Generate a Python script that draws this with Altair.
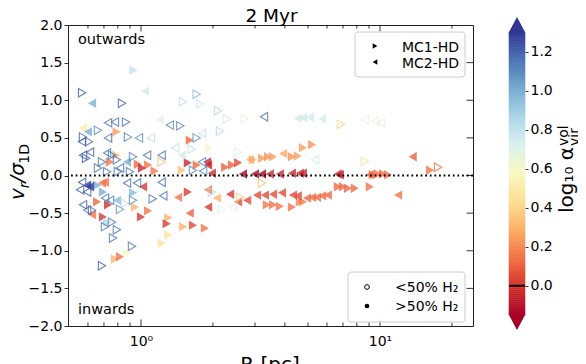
import altair as alt
import pandas as pd
import numpy as np

# ---------------- data ----------------
# MC1-HD, filled (>50% H2)
R1f = [0.93, 0.79, 1.60, 1.93, 0.79, 0.74, 0.97, 1.07, 1.57, 1.71, 2.25, 2.40, 2.55, 2.94, 3.21,
       3.40, 3.57, 4.28, 4.53, 4.76, 5.20, 1.14, 1.48, 1.01, 9.33, 9.80, 10.3, 10.8, 16.2, 6.66,
       7.00, 7.35, 7.85, 9.06, 3.36, 3.57, 3.81, 4.28, 4.62, 4.76, 0.655, 0.693, 0.926, 0.655,
       0.728, 0.944, 1.57, 1.07, 1.00, 0.693, 1.30, 1.28, 1.65, 1.50, 1.85, 1.30, 1.22, 0.778,
       0.817, 0.874, 0.721]
V1f = [1.40, 0.58, 0.47, 0.37, 0.27, 0.18, 0.15, 0.14, 0.17, 0.14, 0.11, 0.14, 0.17, 0.21, 0.23,
       0.25, 0.25, 0.25, 0.26, 0.37, 0.41, 0.06, 0.07, 0.10, 0.01, 0.02, 0.02, 0.01, 0.07, -0.15,
       -0.15, -0.17, -0.17, -0.15, -0.39, -0.39, -0.41, -0.42, -0.35, -0.35, -0.13, -0.22, -0.23,
       -0.35, -0.39, -0.42, -0.22, -0.47, -0.55, -0.55, -0.56, -0.64, -0.66, -0.68, -0.70, -0.79,
       -0.90, -1.11, -1.08, -1.03, -0.62]
A1f = [0.80, 0.25, 0.12, 0.62, 0.32, 0.15, 0.12, 0.15, -0.05, 0.12, 0.10, 0.10, 0.05, 0.28, 0.25,
       0.22, 0.25, 0.22, 0.25, 0.25, 0.22, 0.15, 0.35, -0.05, 0.13, 0.13, 0.13, 0.13, 0.15, 0.12,
       0.12, 0.12, 0.12, 0.15, 0.15, 0.15, 0.15, 0.15, 0.18, 0.18, 1.00, 1.00, 0.95, 0.12,
       -0.02, 0.30, 0.00, 0.15, 0.00, 0.00, 0.30, 0.00, 0.05, 0.30, 0.15, 0.45, 0.45, 0.30,
       0.15, 0.60, 0.85]

# MC2-HD, filled (>50% H2)
R2f = [1.04, 0.624, 1.20, 0.572, 0.60, 1.48, 0.874, 1.89, 1.91, 1.98, 2.67, 3.00, 3.21, 4.53,
       4.76, 5.10, 5.73, 2.86, 3.93, 13.7, 3.46, 3.81, 4.28, 4.62, 4.76, 6.66, 6.80, 9.06, 0.595,
       0.612, 0.687, 0.707, 1.02, 0.793, 1.43, 1.60, 1.91, 1.91, 2.08, 2.36, 2.55, 2.78, 3.06,
       3.30, 3.57, 3.89, 4.32, 4.53, 4.95, 5.20, 5.45, 5.73, 6.05, 11.9, 0.624]
V2f = [1.12, 0.96, 0.74, 0.63, 0.58, 0.27, 0.18, 0.18, 0.14, 0.03, 0.02, 0.02, 0.02, 0.76, 0.77,
       0.77, 0.75, 0.21, 0.29, 0.25, 0.02, 0.02, 0.03, 0.03, 0.03, 0.02, 0.01, 0.01, -0.13,
       -0.15, -0.10, -0.09, -0.15, -0.33, -0.29, -0.50, -0.42, -0.19, -0.30, -0.25, -0.35, -0.33,
       -0.26, -0.26, -0.25, -0.23, -0.26, -0.27, -0.30, -0.29, -0.29, -0.27, -0.26, -0.26, -0.52]
A2f = [0.75, 1.00, 0.70, 0.50, 1.00, 0.75, 1.00, -0.05, -0.05, -0.05, -0.30, -0.30, -0.30, 0.75,
       0.75, 0.75, 0.75, 0.28, 0.27, 0.10, -0.05, -0.05, -0.05, -0.05, -0.05, -0.05, -0.05, 0.12,
       1.40, 1.40, 0.15, 0.15, 0.00, 0.95, 0.15, 0.10, 0.00, 0.15, 0.30, 0.00, 0.05, 0.05, 0.05,
       0.05, 0.05, 0.05, 0.05, 0.05, 0.12, 0.12, 0.12, 0.12, 0.12, 0.15, 0.15]

# MC1-HD, open (<50% H2)
R1o = [0.567, 0.833, 1.50, 1.71, 1.77, 2.10, 2.29, 2.72, 1.46, 2.14, 0.661, 0.866, 0.572, 0.606,
       0.882, 1.71, 1.63, 0.589, 2.55, 0.756, 0.926, 0.687, 0.793, 1.22, 0.661, 0.899, 1.65,
       6.86, 8.64, 17.5, 3.21, 1.98, 0.857, 0.926, 1.12, 0.624, 0.756, 0.707, 0.793, 0.764,
       0.917, 0.687, 2.18, 0.721, 0.80, 2.60, 0.817]
V1o = [1.10, 0.96, 0.98, 1.08, 0.95, 0.86, 0.75, 0.76, 0.66, 0.59, 0.60, 0.71, 0.51, 0.45, 0.51,
       0.50, 0.35, 0.23, 0.31, 0.27, 0.25, 0.18, 0.21, 0.18, 0.10, 0.05, 0.07, 0.68, 0.19, 0.11,
       -0.10, -0.22, -0.37, -0.33, -0.31, -0.46, -0.62, -0.68, -0.72, -0.83, -0.94, -1.20, -0.45,
       0.05, 0.05, -0.29, -0.45]
A1o = [1.20, 1.20, 0.80, 0.95, 0.75, 0.85, 0.75, 0.65, 1.10, 0.85, 1.10, 1.15, 1.20, 1.20, 1.15,
       1.10, 0.80, 1.20, 0.70, 1.15, 1.10, 1.15, 1.15, 0.35, 1.15, 1.15, 1.10, 0.40, 0.45, 0.15,
       0.35, 0.85, 0.80, 1.10, 1.15, 1.20, 1.15, 1.15, 1.15, 1.15, 1.15, 1.20, 0.70, 1.15, 1.15,
       0.40, 1.10]

# MC2-HD, open (<50% H2)
R2o = [3.27, 1.32, 0.728, 0.778, 0.728, 0.567, 0.981, 1.10, 1.80, 1.39, 0.572, 0.612, 0.721,
       1.06, 1.22, 1.80, 0.817, 1.82, 5.35, 8.64, 9.50, 10.1, 0.567, 0.556, 0.595, 0.874, 0.962,
       1.22, 0.707, 0.742, 1.24, 0.572, 0.595, 2.43]
V2o = [0.78, 0.67, 0.70, 0.71, 0.50, 0.45, 0.50, 0.50, 0.56, 0.37, 0.27, 0.31, 0.30, 0.27, 0.27,
       0.18, 0.10, 0.06, 0.21, 0.74, 0.72, 0.70, -0.09, -0.19, -0.22, -0.10, -0.10, -0.09, -0.30,
       -0.33, -0.27, -0.39, -0.46, -0.42]
A2o = [1.15, 1.10, 1.15, 1.15, 1.20, 1.20, 1.10, 0.80, 0.80, 0.80, 1.20, 1.20, 1.15, 1.15, 1.15,
       1.10, 1.15, 1.10, 0.75, 0.65, 0.65, 0.65, 1.20, 1.20, 1.20, 1.15, 1.15, 1.15, 1.15, 1.15,
       1.15, 1.20, 1.20, 0.70]

sims = ["MC1-HD", "MC2-HD"]
x_major = [1, 10]
x_minor = [0.6, 0.7, 0.8, 0.9, 2, 3, 4, 5, 6, 7, 8, 9, 20]
y_ticks = [-2, -1.5, -1, -0.5, 0, 0.5, 1, 1.5, 2]
cb_ticks = [0.0, 0.2, 0.4, 0.6, 0.8, 1.0, 1.2]
c_lo, c_hi = -0.15, 1.30


def frame(sim, R, V, A):
    return pd.DataFrame({"R": R, "V": V, "A": A, "sim": sim})


df_filled = pd.concat([frame(sims[0], R1f, V1f, A1f), frame(sims[1], R2f, V2f, A2f)])
df_open = pd.concat([frame(sims[0], R1o, V1o, A1o), frame(sims[1], R2o, V2o, A2o)])

W, H = 405, 301
FONT = "DejaVu Sans"
one = pd.DataFrame({"k": [0]})

xscale = alt.Scale(type="log", domain=[0.495, 24.5], nice=False)
yscale = alt.Scale(domain=[-2, 2], nice=False, zero=False)
cscale = alt.Scale(scheme="redyellowblue", domain=[c_lo, c_hi], clamp=True)
shape_scale = alt.Scale(domain=sims, range=["triangle-right", "triangle-left"])

xaxis = alt.Axis(values=x_major, labelExpr="datum.value == 1 ? '10⁰' : '10¹'", ticks=False,
                 domain=False, grid=False, labelFont=FONT, labelFontSize=14,
                 labelColor="black", labelPadding=8)
yaxis = alt.Axis(values=y_ticks, format=".1f", tickSize=4, tickColor="black", tickWidth=0.8,
                 labelFont=FONT, labelFontSize=14, labelColor="black", labelPadding=2,
                 domain=False, grid=False)


def X(f):
    return alt.X(f, type="quantitative", scale=xscale, axis=xaxis, title=None)


def Y(f):
    return alt.Y(f, type="quantitative", scale=yscale, axis=yaxis, title=None)


def xt(vals, y0, y1):
    return alt.Chart(pd.DataFrame({"t": vals})).mark_rule(color="black", strokeWidth=0.8).encode(
        x=X("t"), y=alt.value(y0), y2=alt.value(y1))


ticks = [xt(x_major, H, H - 6.5), xt(x_minor, H, H - 3.5), xt(x_major, 0, 6.5), xt(x_minor, 0, 3.5),
         alt.Chart(pd.DataFrame({"t": y_ticks[1:-1]})).mark_rule(color="black", strokeWidth=0.8).encode(
             y=Y("t"), x=alt.value(W), x2=alt.value(W - 6.5))]

zero = alt.Chart(pd.DataFrame({"z": [0]})).mark_rule(
    color="black", strokeWidth=1.8, strokeDash=[1.8, 2.8]).encode(y=Y("z"))

pts_f = alt.Chart(df_filled).mark_point(filled=True, size=88, opacity=0.78, strokeWidth=0).encode(
    x=X("R"), y=Y("V"), color=alt.Color("A:Q", scale=cscale, legend=None),
    shape=alt.Shape("sim:N", scale=shape_scale, legend=None))
pts_o = alt.Chart(df_open).mark_point(filled=False, size=72, opacity=0.8, strokeWidth=1.1).encode(
    x=X("R"), y=Y("V"), color=alt.Color("A:Q", scale=cscale, legend=None),
    shape=alt.Shape("sim:N", scale=shape_scale, legend=None))


def txt(s, x, y, size=14, align="left", angle=0, style="normal"):
    return alt.Chart(one).mark_text(text=s, font=FONT, fontSize=size, color="black", align=align,
                                    baseline="alphabetic", angle=angle, fontStyle=style).encode(
        x=alt.value(x), y=alt.value(y))


def box(x0, y0, x1, y1):
    return alt.Chart(one).mark_rect(fill="white", fillOpacity=0.8, stroke="#cccccc", strokeWidth=1,
                                    cornerRadius=3).encode(
        x=alt.value(x0), x2=alt.value(x1), y=alt.value(y0), y2=alt.value(y1))


def sym(shape, filled, x, y, size):
    return alt.Chart(one).mark_point(shape=shape, filled=filled, color="black", size=size,
                                     opacity=1, strokeWidth=1).encode(x=alt.value(x), y=alt.value(y))


texts = [
    txt("2 Myr", 203.5, -3.2, size=18.5, align="center"),
    txt("R [pc]", 202, 345.6, size=20, align="center"),
    txt("outwards", 10, 19, size=14.5),
    txt("inwards", 10, 289, size=14.5),
    # y label  v_r / sigma_1D
    txt("v", -44, 175, size=20, angle=270, style="italic"),
    txt("r", -39.5, 163.2, size=14, angle=270, style="italic"),
    txt("/σ", -44, 157.4, size=20, angle=270, style="italic"),
    txt("1D", -39.5, 138.7, size=14, angle=270),
    # colorbar label
    txt("log₁₀ α", 505, 122, size=20, align="right", angle=270),
    txt("vol", 500, 121, size=14, angle=270),
    txt("vir", 511, 121, size=14, angle=270),
]

legends = [
    box(287, 7, 397, 52),
    sym("triangle-right", True, 307, 21, 28),
    sym("triangle-left", True, 307, 37, 28),
    txt("MC1-HD", 334, 26.5),
    txt("MC2-HD", 334, 43),
    box(280, 247, 397, 297),
    sym("circle", False, 299, 262, 22),
    sym("circle", True, 299, 281, 22),
    txt("<50% H₂", 327, 267),
    txt(">50% H₂", 327, 286),
]

main = alt.layer(pts_f, pts_o, zero, *ticks, *legends, *texts)

# ---------------- colorbar ----------------
lo = np.linspace(c_lo, c_hi - 0.01, 145)
cb_df = pd.DataFrame({"lo": lo, "hi": lo + 0.01, "mid": lo + 0.005})
cby = alt.Scale(domain=[c_lo, c_hi], range=[290, 7], nice=False, zero=False)
cbaxis = alt.Axis(orient="right", offset=52, values=cb_ticks, format=".1f", tickSize=3,
                  tickColor="black", tickWidth=0.8, labelFont=FONT, labelFontSize=14,
                  labelColor="black", labelPadding=2, domain=False, grid=False)


def CY(f):
    return alt.Y(f, type="quantitative", scale=cby, axis=cbaxis, title=None)


cb_rect = alt.Chart(cb_df).mark_rect(strokeWidth=0.6).encode(
    x=alt.value(441), x2=alt.value(457), y=CY("lo"), y2="hi:Q",
    color=alt.Color("mid:Q", scale=cscale, legend=None),
    stroke=alt.Stroke("mid:Q", scale=cscale, legend=None))

up = alt.Chart(pd.DataFrame({"e": [c_hi], "c": [1.6]})).mark_point(
    shape="M -1 0 L 0 -1.875 L 1 0 Z", filled=True, size=256, opacity=1, strokeWidth=0).encode(
    x=alt.value(449), y=CY("e"), color=alt.Color("c:Q", scale=cscale, legend=None))
down = alt.Chart(pd.DataFrame({"e": [c_lo], "c": [-0.6]})).mark_point(
    shape="M -1 0 L 0 1.875 L 1 0 Z", filled=True, size=256, opacity=1, strokeWidth=0).encode(
    x=alt.value(449), y=CY("e"), color=alt.Color("c:Q", scale=cscale, legend=None))
cb_zero = alt.Chart(pd.DataFrame({"z": [0.0]})).mark_rule(color="black", strokeWidth=2).encode(
    x=alt.value(441), x2=alt.value(457), y=CY("z"))

cb = alt.layer(cb_rect, up, down, cb_zero)

chart = alt.layer(main, cb).resolve_scale(y="independent").resolve_axis(y="independent").properties(
    width=W, height=H,
    autosize=alt.AutoSizeParams(type="none"),
    padding={"left": 60, "top": 17, "right": 105, "bottom": 45},
).configure_view(stroke="#222222", strokeWidth=1)

chart.save("out.html", embed_options={"renderer": "svg", "actions": False})
